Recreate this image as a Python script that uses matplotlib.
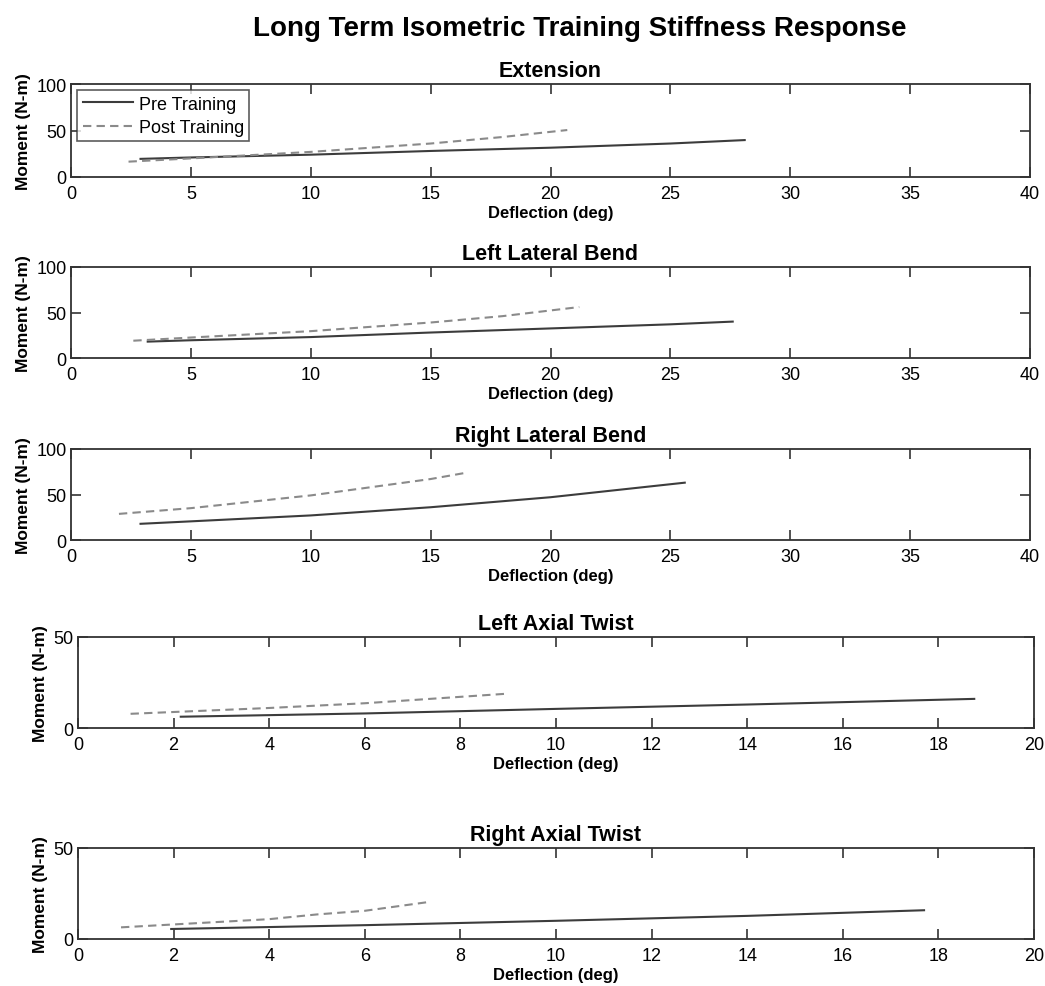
import matplotlib
matplotlib.use("Agg")
import matplotlib.pyplot as plt

plt.rcParams['font.family'] = ['Liberation Sans', 'DejaVu Sans']

# values, per panel: pre / post training curves
ext_pre_x = [2.9, 5, 10, 15, 20, 25, 28.1]
ext_pre_y = [19.5, 21, 24, 28, 31.5, 36, 39.7]
ext_post_x = [2.4, 5, 10, 15, 18, 20.7]
ext_post_y = [16.5, 20, 27, 36, 43, 50.5]

llb_pre_x = [3.2, 5, 10, 15, 20, 25, 27.6]
llb_pre_y = [18, 19.5, 23, 28, 32.5, 37, 40]
llb_post_x = [2.6, 5, 10, 15, 18, 21.2]
llb_post_y = [19, 22.5, 29.5, 39, 46, 56]

rlb_pre_x = [2.9, 5, 10, 15, 20, 25.6]
rlb_pre_y = [17.8, 20.5, 27, 36, 47, 63]
rlb_post_x = [2.0, 5, 10, 15, 16.5]
rlb_post_y = [28.7, 35, 49, 67, 74]

lat_pre_x = [2.15, 6, 10, 14, 18.75]
lat_pre_y = [6.2, 8, 10.5, 12.9, 16]
lat_post_x = [1.1, 4, 6, 8.95]
lat_post_y = [7.8, 11, 13.6, 18.8]

rat_pre_x = [1.95, 6, 10, 14, 17.7]
rat_pre_y = [5.5, 7.6, 10, 12.7, 15.8]
rat_post_x = [0.9, 2, 4, 5, 6, 7.3]
rat_post_y = [6.4, 8, 10.9, 13.5, 15.5, 20.2]

titles = ["Extension", "Left Lateral Bend", "Right Lateral Bend",
          "Left Axial Twist", "Right Axial Twist"]
series_labels = ["Pre Training", "Post Training"]

panels = [
    (ext_pre_x, ext_pre_y, ext_post_x, ext_post_y, 40, 100, 5),
    (llb_pre_x, llb_pre_y, llb_post_x, llb_post_y, 40, 100, 5),
    (rlb_pre_x, rlb_pre_y, rlb_post_x, rlb_post_y, 40, 100, 5),
    (lat_pre_x, lat_pre_y, lat_post_x, lat_post_y, 20, 50, 2),
    (rat_pre_x, rat_pre_y, rat_post_x, rat_post_y, 20, 50, 2),
]

W, H = 1045, 987
# pixel boxes (left, top, right, bottom) of each axes in the reference
boxes = [(71, 85, 1030, 178), (71, 268, 1030, 359), (71, 450, 1030, 541),
         (78, 638, 1034, 729), (78, 849, 1034, 940)]

fig = plt.figure(figsize=(W / 100, H / 100), dpi=100)
fig.text(0.555, 1 - 29 / H, "Long Term Isometric Training Stiffness Response",
         ha="center", va="center", fontsize=20, fontweight="bold")

pre_col = "#3c3c3c"
post_col = "#8a8a8a"

for i, (px, py, qx, qy, xmax, ymax, xstep) in enumerate(panels):
    l, t, r, b = boxes[i]
    ax = fig.add_axes([l / W, 1 - b / H, (r - l) / W, (b - t) / H])
    ax.plot(px, py, color=pre_col, lw=1.5, label=series_labels[0])
    ax.plot(qx, qy, color=post_col, lw=1.5, ls=(0, (4, 2.5)), label=series_labels[1])
    ax.set_xlim(0, xmax)
    ax.set_ylim(0, ymax)
    ax.set_xticks(range(0, xmax + 1, xstep))
    ax.set_yticks([0, 50, 100] if ymax == 100 else [0, 50])
    ax.tick_params(direction="in", top=True, right=True, length=7, width=1.2,
                   labelsize=13, color="#333333")
    ax.tick_params(axis="x", pad=6)
    ax.tick_params(axis="y", pad=3)
    for s in ax.spines.values():
        s.set_linewidth(1.3)
        s.set_color("#333333")
    ax.set_title(titles[i], fontsize=15.5, fontweight="bold", pad=6)
    ax.set_xlabel("Deflection (deg)", fontsize=12, fontweight="bold", labelpad=2)
    ax.set_ylabel("Moment (N-m)", fontsize=12.5, fontweight="bold", labelpad=4)
    if i == 0:
        leg = ax.legend(loc="upper left", fontsize=13, frameon=True, fancybox=False,
                        borderaxespad=0.35, handlelength=2.8, borderpad=0.3,
                        labelspacing=0.35, handletextpad=0.3)
        leg.get_frame().set_edgecolor("#333333")
        leg.get_frame().set_linewidth(1.2)

fig.savefig("out.png", dpi=100)
